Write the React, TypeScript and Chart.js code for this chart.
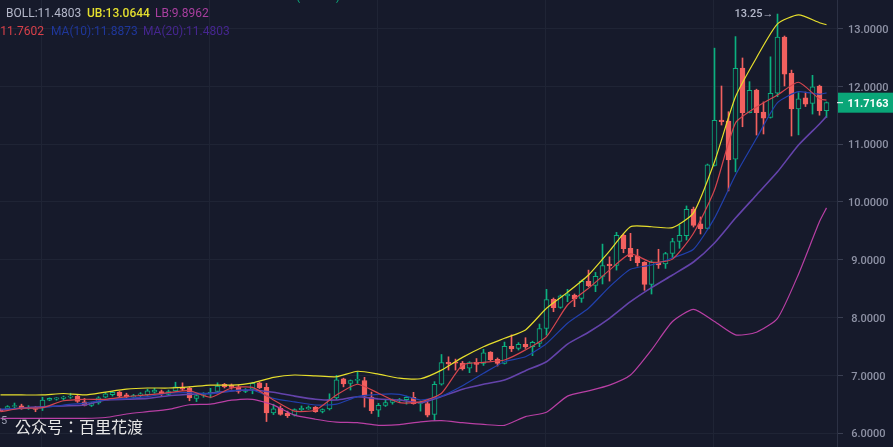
import React, { useRef, useEffect } from 'react';
import { Chart, registerables } from 'chart.js';

Chart.register(...registerables);

const opens = [6.41,6.42,6.46,6.47,6.43,6.445,6.44,6.57,6.585,6.60,6.62,6.64,6.54,6.48,6.52,6.62,6.665,6.71,6.66,6.62,6.65,6.665,6.71,6.72,6.67,6.73,6.79,6.78,6.60,6.65,6.68,6.72,6.845,
  6.83,6.80,6.72,6.76,6.87,6.79,6.35,6.43,6.34,6.31,6.405,6.42,6.45,6.375,6.42,6.61,6.94,6.86,6.91,6.91,6.625,6.395,6.48,6.53,6.555,6.58,6.62,6.515,6.51,6.325,6.845,7.225,7.23,
  7.21,7.125,7.225,7.205,7.40,7.275,7.205,7.50,7.465,7.535,7.495,7.55,7.81,8.314,8.175,8.372,8.39,8.33,8.625,8.556,8.712,8.925,8.90,9.42,9.197,9.064,8.954,8.573,8.95,8.925,9.11,9.318,
  9.415,9.877,9.62,9.54,10.63,11.417,11.40,10.74,12.317,11.543,11.936,11.555,11.46,11.88,12.853,12.225,11.61,11.80,11.705,12.005,11.58];
const highs = [6.42,6.475,6.52,6.50,6.475,6.46,6.62,6.61,6.615,6.64,6.69,6.67,6.60,6.53,6.63,6.705,6.72,6.72,6.69,6.67,6.70,6.76,6.775,6.745,6.745,6.88,6.87,6.80,6.665,6.70,6.775,6.87,6.86,
  6.85,6.83,6.77,6.88,6.88,6.86,6.50,6.47,6.38,6.42,6.47,6.47,6.46,6.42,6.68,7.0,6.95,6.92,7.06,6.965,6.71,6.515,6.57,6.59,6.60,6.64,6.705,6.555,6.54,6.89,7.36,7.32,7.28,
  7.24,7.235,7.29,7.45,7.41,7.30,7.575,7.70,7.565,7.65,7.59,7.887,8.487,8.337,8.39,8.487,8.406,8.648,8.82,8.78,9.27,9.05,9.474,9.445,9.456,9.18,8.966,8.983,9.18,9.127,9.37,9.60,
  9.93,9.91,9.74,10.655,12.66,12.005,11.56,12.86,12.49,12.08,11.95,11.73,12.51,13.25,12.87,12.28,11.89,11.90,12.19,12.02,11.73];
const lows = [6.38,6.40,6.42,6.41,6.41,6.37,6.39,6.56,6.57,6.57,6.60,6.53,6.47,6.46,6.50,6.61,6.64,6.62,6.585,6.60,6.63,6.65,6.69,6.65,6.65,6.72,6.735,6.56,6.545,6.62,6.61,6.70,6.78,
  6.76,6.69,6.70,6.68,6.77,6.20,6.32,6.31,6.27,6.295,6.39,6.41,6.36,6.35,6.40,6.58,6.80,6.745,6.86,6.45,6.34,6.285,6.46,6.50,6.53,6.50,6.50,6.38,6.28,6.215,6.83,7.09,7.09,
  7.09,7.045,7.06,7.17,7.25,7.16,7.195,7.41,7.437,7.465,7.34,7.495,7.695,8.10,8.16,8.273,8.187,8.262,8.533,8.447,8.58,8.63,8.82,9.12,8.983,8.89,8.47,8.406,8.85,8.85,9.035,9.197,
  9.34,9.565,9.445,9.53,10.62,11.33,10.19,10.52,11.30,11.54,11.157,11.175,11.45,11.82,12.005,11.14,11.16,11.65,11.52,11.50,11.46];
const closes = [6.39,6.46,6.475,6.42,6.445,6.41,6.57,6.60,6.61,6.625,6.64,6.55,6.48,6.52,6.61,6.68,6.705,6.64,6.62,6.65,6.68,6.73,6.745,6.68,6.72,6.80,6.76,6.61,6.65,6.665,6.705,6.815,6.80,
  6.79,6.72,6.745,6.86,6.78,6.35,6.42,6.325,6.30,6.405,6.43,6.445,6.37,6.405,6.58,6.92,6.85,6.91,6.93,6.64,6.39,6.48,6.53,6.57,6.58,6.62,6.51,6.53,6.31,6.845,7.22,7.195,7.21,
  7.11,7.22,7.19,7.39,7.27,7.205,7.50,7.455,7.535,7.49,7.57,7.81,8.31,8.17,8.377,8.406,8.32,8.625,8.55,8.712,8.90,8.896,9.42,9.19,9.05,8.95,8.573,8.96,8.908,9.104,9.312,9.42,
  9.87,9.595,9.536,10.64,11.41,11.387,10.725,12.31,11.543,11.93,11.543,11.45,11.88,12.85,12.21,11.61,11.785,11.69,11.99,11.58,11.7163];

// line values every third candle, plus the last one
const lineIdx = [0,3,6,9,12,15,18,21,24,27,30,33,36,39,42,45,48,51,54,57,60,63,66,69,72,75,78,81,84,87,90,93,96,99,102,105,108,111,114,117,118];
const ub = [6.66,6.66,6.66,6.685,6.66,6.71,6.76,6.78,6.78,6.80,6.83,6.83,6.87,6.965,7.005,6.99,6.975,7.07,7.02,6.95,6.94,7.09,7.31,7.495,7.64,7.785,8.16,8.435,8.735,9.15,9.57,9.57,9.555,9.81,10.695,11.82,12.495,13.08,13.235,13.10,13.0644];
const lb = [6.255,6.255,6.255,6.255,6.255,6.27,6.33,6.37,6.41,6.49,6.50,6.57,6.585,6.485,6.31,6.24,6.19,6.18,6.135,6.145,6.195,6.215,6.18,6.15,6.135,6.285,6.36,6.64,6.73,6.83,7.005,7.44,7.93,8.14,7.93,7.70,7.745,7.985,8.75,9.66,9.8962];
const ma5 = [6.37,6.43,6.44,6.56,6.585,6.585,6.63,6.66,6.70,6.733,6.62,6.78,6.79,6.573,6.38,6.40,6.66,6.845,6.69,6.526,6.54,6.69,7.18,7.225,7.265,7.44,7.67,8.216,8.505,8.82,9.10,8.955,9.01,9.457,10.206,11.365,11.64,11.85,12.07,11.78,11.7602];
const ma10 = [6.417,6.425,6.44,6.486,6.52,6.58,6.60,6.63,6.69,6.70,6.68,6.73,6.746,6.60,6.54,6.486,6.50,6.63,6.67,6.67,6.573,6.64,6.82,7.035,7.235,7.32,7.55,7.90,8.16,8.53,8.834,8.91,9.03,9.18,9.72,10.465,11.10,11.716,11.907,11.86,11.8873];
const ma20 = [6.40,6.435,6.457,6.47,6.486,6.573,6.585,6.60,6.647,6.67,6.69,6.73,6.746,6.706,6.64,6.585,6.573,6.63,6.59,6.573,6.526,6.633,6.758,6.844,6.918,7.08,7.235,7.54,7.744,7.986,8.273,8.516,8.735,8.96,9.29,9.72,10.12,10.52,10.985,11.348,11.4803];

const yTicks = [6, 7, 8, 9, 10, 11, 12, 13];
const xGridTicks = [5.85, 29.85, 53.85, 77.85, 101.85];
const lastPrice = 11.7163;
const peakIdx = 111;
const peakPrice = 13.25;

const BG = '#161a2b';
const GRID = '#1f2435';
const UP = '#0bb07f';
const DOWN = '#f2605f';
const FONT = 'Roboto, sans-serif';

const candleX = opens.map((_, i) => i);

const overlay = {
  id: 'overlay',
  afterDraw(chart: any) {
    const { ctx: c, scales } = chart;
    const text = (s: string, x: number, y: number, color: string, font = `12px ${FONT}`, align: CanvasTextAlign = 'left') => {
      c.font = font;
      c.fillStyle = color;
      c.textAlign = align;
      c.textBaseline = 'middle';
      c.fillText(s, x, y);
    };
    c.save();

    // indicator rows at the top left
    text('BOLL:11.4803', 6, 13.5, '#b4b8ca');
    text('UB:13.0644', 87, 13.5, '#e4df2e', `500 12px ${FONT}`);
    text('LB:9.8962', 155, 13.5, '#a93f9f');
    text('MA(5):11.7602', 44, 31.5, '#d8404a', `12px ${FONT}`, 'right');
    text('MA(10):11.8873', 51, 31.5, '#1f379b');
    text('MA(20):11.4803', 143, 31.5, '#45268f');
    text('(', 296, -3.5, UP);
    text(')', 336, -3.5, UP);

    // high marker
    const px = scales.x.getPixelForValue(peakIdx);
    const py = scales.y.getPixelForValue(peakPrice);
    text(peakPrice.toFixed(2), px - 15, py, '#b4b8ca', `500 11px ${FONT}`, 'right');
    text('→', px - 4, py, '#b4b8ca', `11px ${FONT}`, 'right');

    // last price tag on the axis
    const ly = scales.y.getPixelForValue(lastPrice);
    c.fillStyle = '#0aa678';
    c.fillRect(838, ly - 10, 55, 20);
    c.fillStyle = '#ffffff';
    c.fillRect(837, ly - 0.5, 6, 1);
    text(lastPrice.toFixed(4), 868, ly + 1.5, '#ffffff', `700 11px ${FONT}`, 'center');

    // footer
    text('5', 1, 421, '#9a9eb0', `11px ${FONT}`);
    text('公众号：百里花渡', 15, 427, '#e6e6e6', '16px "Noto Sans CJK TC"');
    c.restore();
  },
};

function lineSet(label: string, values: number[], color: string, width = 1.2) {
  return {
    type: 'line' as const,
    label,
    data: values.map((y, i) => ({ x: lineIdx[i], y })),
    borderColor: color,
    borderWidth: width,
    pointRadius: 0,
    tension: 0.2,
    order: 0,
  };
}

export default function App() {
  const chartRef = useRef<HTMLCanvasElement>(null);

  useEffect(() => {
    const chart = new Chart(chartRef.current!, {
      type: 'bar',
      plugins: [overlay],
      data: {
        datasets: [
          lineSet('UB', ub, '#e6de2c'),
          lineSet('LB', lb, '#b83fa4'),
          lineSet('MA5', ma5, '#d5454e'),
          lineSet('MA10', ma10, '#2140ad'),
          lineSet('MA20', ma20, '#6443ab', 1.6),
          {
            label: 'body',
            data: candleX.map((x, i) => ({ x, y: [opens[i], closes[i]] })),
            barThickness: 5,
            grouped: false,
            borderWidth: 1,
            borderSkipped: false,
            borderColor: opens.map((o, i) => (closes[i] > o ? UP : DOWN)),
            backgroundColor: opens.map((o, i) => (closes[i] > o ? BG : DOWN)),
            order: 1,
          },
          {
            label: 'wick',
            data: candleX.map((x, i) => ({ x, y: [lows[i], highs[i]] })),
            barThickness: 1,
            grouped: false,
            backgroundColor: opens.map((o, i) => (closes[i] > o ? UP : DOWN)),
            order: 2,
          },
        ] as any,
      },
      options: {
        responsive: false,
        animation: false,
        layout: { padding: 0, autoPadding: false },
        plugins: { legend: { display: false }, tooltip: { enabled: false } },
        scales: {
          x: {
            type: 'linear',
            offset: false,
            min: -0.0714,
            max: 119.5,
            afterBuildTicks: (axis: any) => {
              axis.ticks = xGridTicks.map((value) => ({ value }));
            },
            afterFit: (axis: any) => {
              axis.height = 0;
            },
            ticks: { display: false },
            grid: { color: GRID, offset: false, drawTicks: false },
            border: { display: false },
          },
          y: {
            position: 'right',
            min: 5.7595,
            max: 13.493,
            afterBuildTicks: (axis: any) => {
              axis.ticks = yTicks.map((value) => ({ value }));
            },
            afterFit: (axis: any) => {
              // full height plot: no room kept for half a tick label at either end
              axis.width = 56;
              axis.paddingTop = 0;
              axis.paddingBottom = 0;
            },
            ticks: {
              color: '#8e92a5',
              padding: 5,
              labelOffset: 1.5,
              crossAlign: 'center',
              font: { family: FONT, size: 11, weight: '500' },
              callback: (value: any) => Number(value).toFixed(4),
            },
            grid: { color: GRID, tickColor: '#3a3f52', tickLength: 6 },
            border: { color: '#2c3144' },
          },
        },
      } as any,
    });

    return () => chart.destroy();
  }, []);

  return (
    <div style={{ position: 'fixed', left: 0, top: 0, width: 893, height: 447, background: BG }}>
      <canvas ref={chartRef} width={893} height={447} style={{ display: 'block' }}></canvas>
    </div>
  );
}
